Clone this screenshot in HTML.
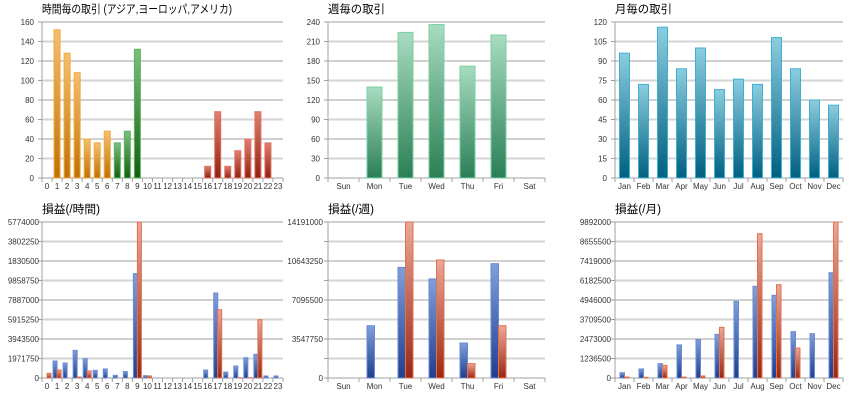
<!DOCTYPE html>
<html><head><meta charset="utf-8">
<style>
body{margin:0;background:#fff;width:860px;height:400px;overflow:hidden;font-family:"Liberation Sans","Noto Sans CJK JP",sans-serif;}
svg text{font-family:"Liberation Sans","Noto Sans CJK JP",sans-serif;}
</style></head>
<body>
<svg id="c" width="860" height="400" xmlns="http://www.w3.org/2000/svg">
<defs>
<linearGradient id="gOr" x1="0" y1="0" x2="0" y2="1"><stop offset="0" stop-color="#f5c070"/><stop offset="1" stop-color="#c07000"/></linearGradient>
<linearGradient id="gGr" x1="0" y1="0" x2="0" y2="1"><stop offset="0" stop-color="#7cc07c"/><stop offset="1" stop-color="#106010"/></linearGradient>
<linearGradient id="gRd" x1="0" y1="0" x2="0" y2="1"><stop offset="0" stop-color="#e08070"/><stop offset="1" stop-color="#902010"/></linearGradient>
<linearGradient id="gMint" x1="0" y1="0" x2="0" y2="1"><stop offset="0" stop-color="#a8dcc0"/><stop offset="1" stop-color="#2a7f55"/></linearGradient>
<linearGradient id="gTeal" x1="0" y1="0" x2="0" y2="1"><stop offset="0" stop-color="#8ccde0"/><stop offset="1" stop-color="#006080"/></linearGradient>
<linearGradient id="gBl" x1="0" y1="0" x2="0" y2="1"><stop offset="0" stop-color="#7f9fdc"/><stop offset="1" stop-color="#1f3f8f"/></linearGradient>
<linearGradient id="gPk" x1="0" y1="0" x2="0" y2="1"><stop offset="0" stop-color="#eca898"/><stop offset="1" stop-color="#9a2810"/></linearGradient>
</defs>
</svg>
<script>
const hours = ["0","1","2","3","4","5","6","7","8","9","10","11","12","13","14","15","16","17","18","19","20","21","22","23"];
const days = ["Sun","Mon","Tue","Wed","Thu","Fri","Sat"];
const months = ["Jan","Feb","Mar","Apr","May","Jun","Jul","Aug","Sep","Oct","Nov","Dec"];
const hourTrades = [0,152,128,108,40,36,48,36,48,132,0,0,0,0,0,0,12,68,12,28,40,68,36,0];
const dayTrades = [0,140,224,236,172,220,0];
const monthTrades = [96,72,116,84,100,68,76,72,108,84,60,56];
const hourTicks = [0,20,40,60,80,100,120,140,160];
const dayTicks = [0,30,60,90,120,150,180,210,240];
const monthTicks = [0,15,30,45,60,75,90,105,120];
const hourProfitBlue = [0,1719000,1514000,2792000,1956000,773000,915000,268000,647000,10553000,237000,0,0,0,0,0,804000,8597000,599000,1215000,2051000,2398000,205000,205000];
const hourProfitRed = [426000,724000,0,85000,639000,0,0,0,0,14191000,184000,0,0,0,0,0,0,6216000,0,28000,28000,5307000,0,0];
const hourProfitTicks = ["0","1971750","3943500","5915250","7887000","9858750","1830500","3802250","5774000"];
const dayProfitBlue = [0,4754000,10061000,9011000,3179000,10402000,0];
const dayProfitRed = [0,0,14191000,10728000,1306000,4754000,0];
const dayProfitTicks = ["0","","3547750","","7095500","","10643250","","14191000"];
const monthProfitBlue = [336000,574000,910000,2097000,2433000,2770000,4857000,5816000,5243000,2938000,2809000,6677000];
const monthProfitRed = [59000,40000,801000,59000,129000,3215000,0,9150000,5915000,1899000,0,9892000];
const monthProfitTicks = ["0","1236500","2473000","3709500","4946000","6182500","7419000","8655500","9892000"];

const NS="http://www.w3.org/2000/svg";
const svg=document.getElementById('c');
function el(tag,attrs,parent){const e=document.createElementNS(NS,tag);for(const k in attrs)e.setAttribute(k,attrs[k]);(parent||svg).appendChild(e);return e;}

function frame(p,title,tickLabels,cats,name,labelAnchorX,titleLen){
  const g=el('g',{});
  
  
  const ta={x:p.x0,y:p.y0-9,'font-size':11.5,fill:'#000'};
  if(titleLen){ta.textLength=titleLen;ta.lengthAdjust='spacingAndGlyphs';}
  const t=el('text',ta,g);
  t.textContent=title;
  
  
  const n=tickLabels.length-1;
  for(let i=0;i<=n;i++){
    const y=p.y1-(p.y1-p.y0)*i/n;
    const light=(i%2===1);
    el('line',{x1:p.x0,x2:p.x1,y1:y,y2:y,stroke:light?'#d4d4d4':'#a0a0a0','stroke-width':light?2:1},g);
    el('line',{x1:p.x0-4,x2:p.x0,y1:y,y2:y,stroke:'#a0a0a0','stroke-width':1},g);
    const lab=el('text',{x:labelAnchorX!==undefined?labelAnchorX:p.x0-8,y:y+3,'font-size':8,'text-anchor':'end',fill:'#333'},g);
    lab.textContent=tickLabels[i];
    
    
  }
  el('line',{x1:p.x0,x2:p.x0,y1:p.y0,y2:p.y1+4,stroke:'#a0a0a0'},g);
  const sw=(p.x1-p.x0)/cats.length;
  for(let i=0;i<cats.length;i++){
    el('line',{x1:p.x0+sw*(i+1),x2:p.x0+sw*(i+1),y1:p.y1,y2:p.y1+4,stroke:'#a0a0a0'},g);
    const lab=el('text',{x:p.x0+sw*(i+0.5),y:p.y1+11,'font-size':8,'text-anchor':'middle',fill:'#333'},g);
    lab.textContent=cats[i];
    
    
  }
  return g;
}
function bar(g,x,w,y,h,fill,stroke){
  if(h<=0)return;
  const r=el('rect',{x:x,y:y,width:w,height:h,fill:fill,stroke:stroke,'stroke-width':1},g);
  
  
}
function single(p,cats,vals,max,bw,colorFn,g){
  const sw=(p.x1-p.x0)/cats.length;
  const ys=v=>p.y1-(p.y1-p.y0)*v/max;
  vals.forEach((v,i)=>{const c=colorFn(i);bar(g,p.x0+sw*(i+0.5)-bw/2,bw,ys(v),p.y1-ys(v),c[0],c[1]);});
}
function dual(p,cats,a,b,maxA,maxB,bw,g){
  const sw=(p.x1-p.x0)/cats.length;
  const ya=v=>p.y1-(p.y1-p.y0)*v/maxA;
  const yb=v=>p.y1-(p.y1-p.y0)*v/maxB;
  a.forEach((v,i)=>{const c=p.x0+sw*(i+0.5);
    bar(g,c-bw,bw,ya(v),p.y1-ya(v),'url(#gBl)','#6a8ad0');
    bar(g,c,bw,yb(b[i]),p.y1-yb(b[i]),'url(#gPk)','#e07050');});
}
const P1={x0:42,x1:283,y0:22,y1:178};
const g1=frame(P1,'時間毎の取引 (アジア,ヨーロッパ,アメリカ)',hourTicks,hours,'hourly-trades-chart',undefined,190);
single(P1,hours,hourTrades,160,6,i=>i<=6?['url(#gOr)','#f0a840']:i<=9?['url(#gGr)','#60b060']:['url(#gRd)','#e07060'],g1);
const P2={x0:328,x1:545,y0:22,y1:178};
const g2=frame(P2,'週毎の取引',dayTicks,days,'weekly-trades-chart',undefined,57);
single(P2,days,dayTrades,240,15,()=>['url(#gMint)','#78d0a0'],g2);
const P3={x0:615,x1:843,y0:22,y1:178};
const g3=frame(P3,'月毎の取引',monthTicks,months,'monthly-trades-chart',undefined,57);
single(P3,months,monthTrades,120,10,()=>['url(#gTeal)','#40b0d0'],g3);
const P4={x0:42,x1:283,y0:222,y1:378};
const g4=frame(P4,'損益(/時間)',hourProfitTicks,hours,'hourly-profit-chart',39,58);
dual(P4,hours,hourProfitBlue,hourProfitRed,15774000,14191000,4,g4);
const P5={x0:328,x1:545,y0:222,y1:378};
const g5=frame(P5,'損益(/週)',dayProfitTicks,days,'weekly-profit-chart',323,46);
dual(P5,days,dayProfitBlue,dayProfitRed,14191000,14191000,7.5,g5);
const P6={x0:615,x1:843,y0:222,y1:378};
const g6=frame(P6,'損益(/月)',monthProfitTicks,months,'monthly-profit-chart',611,46);
dual(P6,months,monthProfitBlue,monthProfitRed,9892000,9892000,4.5,g6);
</script>
</body></html>
